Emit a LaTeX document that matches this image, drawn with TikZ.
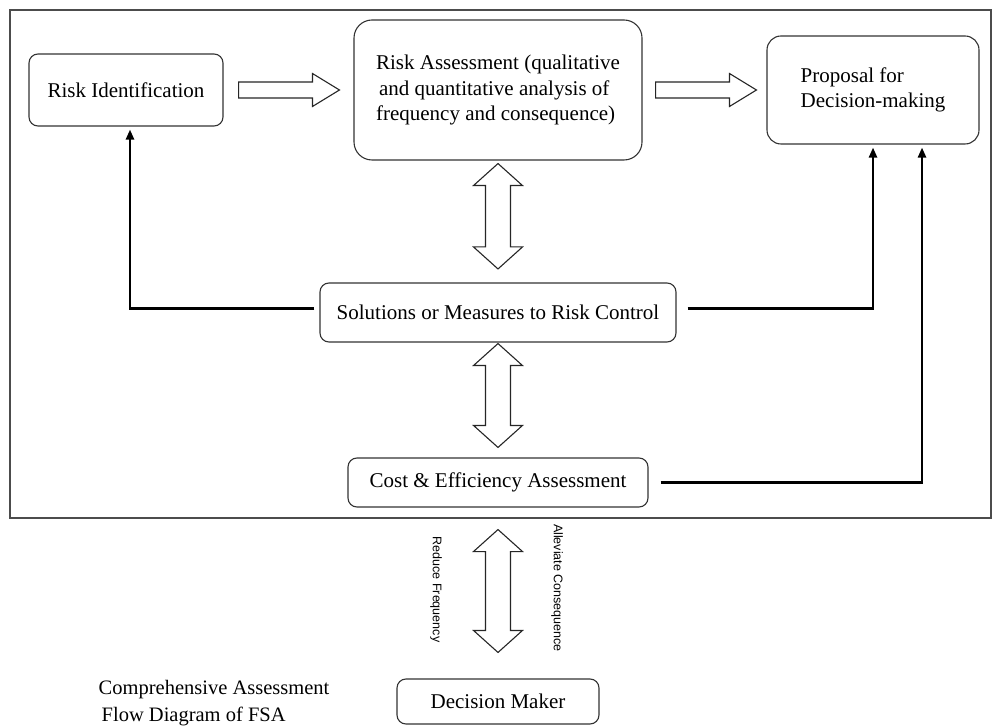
\documentclass[tikz,border=0pt]{standalone}
\usepackage{fontspec}
\setmainfont{Liberation Serif}
\newfontfamily\labelfont{Liberation Sans}
\usetikzlibrary{positioning, calc, arrows.meta}
\tikzset{
x=1pt, y=1pt, % one unit is one pixel of the sketch
box/.style={draw=black!80, line width=1.1pt, rounded corners=9pt, align=center, inner sep=0pt, font=\fontsize{21}{25.5}\selectfont}, % the rounded boxes
feedback/.style={line width=2.4pt, -{Triangle[length=10pt,width=8pt]}}, % thick black return lines
fat/.style={draw=black!85, line width=1.1pt, fill=white}, % hollow block arrows
vlabel/.style={font=\labelfont\fontsize{12.5}{14}\selectfont, rotate=-90}, % text beside the last arrow
}
% hollow arrow pointing right, from #1 to #2
\newcommand{\fatright}[2]{%
\draw[fat] let \p1=#1, \p2=#2 in
 (\x1,\y1+8pt) -- (\x2-27pt,\y1+8pt) -- (\x2-27pt,\y1+16.5pt) -- (\x2,\y1)
 -- (\x2-27pt,\y1-16.5pt) -- (\x2-27pt,\y1-8pt) -- (\x1,\y1-8pt) -- cycle;}
% hollow up-down arrow, #1 top tip, #2 bottom tip
\newcommand{\fatboth}[2]{%
\draw[fat] let \p1=#1, \p2=#2 in
 (\x1,\y1) -- (\x1+24.5pt,\y1-22pt) -- (\x1+12.5pt,\y1-22pt) -- (\x1+12.5pt,\y2+22pt)
 -- (\x1+24.5pt,\y2+22pt) -- (\x1,\y2) -- (\x1-24.5pt,\y2+22pt) -- (\x1-12.5pt,\y2+22pt)
 -- (\x1-12.5pt,\y1-22pt) -- (\x1-24.5pt,\y1-22pt) -- cycle;}

\begin{document}
\begin{tikzpicture}
\useasboundingbox (0,0) rectangle (992,726);
\draw[black!70, line width=1.4pt] (10,716) rectangle (991,208);

\node[box, minimum width=194pt, minimum height=72pt] (ri) at (126,636) {Risk Identification};
\node[box, rounded corners=18pt, align=left, minimum width=288pt, minimum height=140pt] (ra) at (498,636)
 {Risk Assessment (qualitative\\\hspace*{3pt}and quantitative analysis of\\frequency and consequence)};
\node[box, rounded corners=14pt, align=left, minimum width=212pt, minimum height=108pt] (pr) at (873,636)
 {Proposal for\\Decision-making};
\node[box, minimum width=356pt, minimum height=59pt] (sol) at (498,413.5) {Solutions or Measures to Risk Control};
\node[box, minimum width=300pt, minimum height=49pt] (cost) at (498,243.5) {Cost \& Efficiency Assessment};
\node[box, minimum width=202pt, minimum height=45pt] (dm) at (498,24.5) {Decision Maker};
\node[align=left, font=\fontsize{20.5}{27}\selectfont] (caption) at (214,23)
 {Comprehensive Assessment\\\hspace*{3pt}Flow Diagram of FSA};

\fatright{($(ri.east)+(15,0)$)}{($(ra.west)+(-14,0)$)}
\fatright{($(ra.east)+(13,0)$)}{($(pr.west)+(-10,0)$)}
\fatboth{($(ra.south)+(0,-3)$)}{($(sol.north)+(0,13.5)$)}
\fatboth{($(sol.south)+(0,-1)$)}{($(cost.north)+(0,10)$)}
\fatboth{($(cost.south)+(0,-22)$)}{($(dm.north)+(0,26)$)}

\node[vlabel] (lfreq) at (436,136.5) {Reduce Frequency};
\node[vlabel] (lcons) at (557,138) {Alleviate Consequence};

\draw[feedback] ($(sol.west)+(-5,4)$) -| ($(ri.south)+(4,-3)$);
\draw[feedback] ($(sol.east)+(11,4)$) -| ($(pr.south)+(0,-3)$);
\draw[feedback] ($(cost.east)+(12,0)$) -| ($(pr.south)+(49,-3)$);
\end{tikzpicture}
\end{document}
